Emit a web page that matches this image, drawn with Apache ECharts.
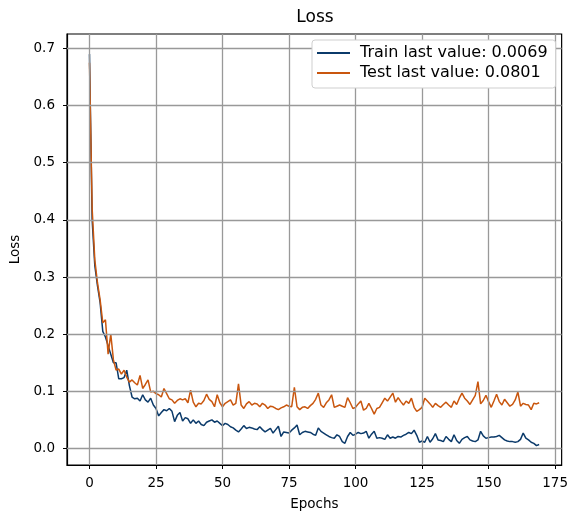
<!DOCTYPE html>
<html lang="en">
<head>
    <meta charset="UTF-8">
    <title>Loss</title>
    <script src="https://cdn.jsdelivr.net/npm/echarts@6/dist/echarts.min.js"></script>
    <style>
        html, body { margin: 0; padding: 0; background: #fff; }
        #chart { width: 571px; height: 516px; }
    </style>
</head>
<body>
    <div id="chart"></div>

    <script>
        // loss per epoch
        var trainLoss = [
            0.690, 0.400, 0.320, 0.285, 0.255, 0.205, 0.195, 0.180, 0.165, 0.150,
            0.150, 0.122, 0.122, 0.124, 0.137, 0.110, 0.090, 0.087, 0.088, 0.083,
            0.094, 0.085, 0.081, 0.088, 0.076, 0.070, 0.057, 0.063, 0.068, 0.066,
            0.070, 0.065, 0.047, 0.058, 0.063, 0.048, 0.054, 0.052, 0.044, 0.050,
            0.044, 0.048, 0.042, 0.040, 0.046, 0.048, 0.050, 0.046, 0.048, 0.044,
            0.040, 0.044, 0.042, 0.038, 0.036, 0.032, 0.029, 0.034, 0.040, 0.035,
            0.037, 0.036, 0.034, 0.033, 0.038, 0.033, 0.029, 0.032, 0.035, 0.027,
            0.033, 0.039, 0.021, 0.029, 0.028, 0.027, 0.032, 0.036, 0.041, 0.024,
            0.028, 0.030, 0.029, 0.028, 0.025, 0.023, 0.036, 0.030, 0.027, 0.024,
            0.021, 0.019, 0.018, 0.024, 0.021, 0.012, 0.009, 0.021, 0.028, 0.023,
            0.025, 0.028, 0.026, 0.027, 0.030, 0.018, 0.025, 0.030, 0.018, 0.019,
            0.018, 0.016, 0.024, 0.018, 0.020, 0.018, 0.021, 0.020, 0.023, 0.025,
            0.028, 0.026, 0.032, 0.023, 0.011, 0.013, 0.011, 0.021, 0.011, 0.017,
            0.026, 0.015, 0.014, 0.012, 0.021, 0.016, 0.012, 0.024, 0.014, 0.009,
            0.016, 0.019, 0.021, 0.015, 0.013, 0.012, 0.015, 0.030, 0.022, 0.018,
            0.019, 0.020, 0.020, 0.021, 0.023, 0.019, 0.015, 0.013, 0.012, 0.012,
            0.011, 0.012, 0.016, 0.027, 0.018, 0.015, 0.011, 0.009, 0.005, 0.0069
        ];
        var testLoss = [
            0.675, 0.420, 0.330, 0.290, 0.260, 0.220, 0.225, 0.165, 0.200, 0.155,
            0.137, 0.139, 0.130, 0.137, 0.125, 0.116, 0.120, 0.115, 0.111, 0.128,
            0.105, 0.112, 0.120, 0.099, 0.100, 0.096, 0.094, 0.090, 0.105, 0.096,
            0.087, 0.085, 0.079, 0.084, 0.087, 0.085, 0.087, 0.080, 0.102, 0.081,
            0.073, 0.079, 0.078, 0.084, 0.095, 0.086, 0.082, 0.073, 0.094, 0.080,
            0.073, 0.079, 0.082, 0.085, 0.076, 0.079, 0.113, 0.076, 0.070, 0.078,
            0.082, 0.076, 0.079, 0.078, 0.073, 0.079, 0.076, 0.070, 0.074, 0.073,
            0.070, 0.068, 0.071, 0.073, 0.076, 0.074, 0.073, 0.107, 0.073, 0.068,
            0.072, 0.073, 0.070, 0.075, 0.079, 0.086, 0.097, 0.076, 0.072, 0.080,
            0.085, 0.094, 0.072, 0.074, 0.076, 0.074, 0.072, 0.089, 0.080, 0.070,
            0.072, 0.078, 0.083, 0.067, 0.070, 0.079, 0.070, 0.060, 0.070, 0.072,
            0.080, 0.088, 0.083, 0.090, 0.097, 0.081, 0.089, 0.082, 0.076, 0.083,
            0.079, 0.088, 0.072, 0.065, 0.068, 0.072, 0.088, 0.083, 0.078, 0.072,
            0.079, 0.075, 0.072, 0.077, 0.081, 0.076, 0.072, 0.083, 0.077, 0.088,
            0.097, 0.088, 0.083, 0.077, 0.085, 0.093, 0.117, 0.078, 0.084, 0.093,
            0.082, 0.072, 0.083, 0.095, 0.082, 0.076, 0.086, 0.080, 0.074, 0.077,
            0.085, 0.099, 0.074, 0.079, 0.077, 0.076, 0.068, 0.079, 0.078, 0.0801
        ];
        var xTicks = [0, 25, 50, 75, 100, 125, 150, 175];
        var yTicks = [0.0, 0.1, 0.2, 0.3, 0.4, 0.5, 0.6, 0.7];
        var trainName = 'Train last value: 0.0069';
        var testName = 'Test last value: 0.0801';

        function pairs(arr) {
            var out = [];
            for (var i = 0; i < arr.length; i++) {
                out.push([i, arr[i]]);
            }
            return out;
        }

        // grid lines at the tick values (splitLine ignores customValues)
        var gridLines = [];
        xTicks.forEach(function (v) { gridLines.push({ xAxis: v }); });
        yTicks.forEach(function (v) { gridLines.push({ yAxis: v }); });

        var font = 'DejaVu Sans';
        var mychart = echarts.init(document.getElementById('chart'));
        var option = {
            animation: false,
            title: {
                text: 'Loss',
                left: 315,
                top: 9,
                padding: 0,
                textAlign: 'center',
                textStyle: { fontFamily: font, fontSize: 17, fontWeight: 'normal', color: '#000' }
            },
            legend: {
                orient: 'vertical',
                left: 312,
                top: 40,
                z: 20,
                icon: 'rect',
                itemWidth: 33,
                itemHeight: 2,
                itemGap: 4,
                padding: [5, 8, 7, 5],
                backgroundColor: '#fff',
                borderColor: '#cfcfcf',
                borderWidth: 1,
                borderRadius: 3,
                textStyle: { fontFamily: font, fontSize: 16, color: '#000', padding: [0, 0, 0, 5] },
                data: [trainName, testName]
            },
            grid: {
                left: 67,
                right: 8,
                top: 34,
                bottom: 46,
                show: true,
                borderColor: '#000',
                borderWidth: 1.2,
                backgroundColor: '#fff'
            },
            xAxis: {
                type: 'value',
                min: -8.45,
                max: 177.45,
                name: 'Epochs',
                nameLocation: 'middle',
                nameGap: 32,
                nameTextStyle: { fontFamily: font, fontSize: 13.5, color: '#000' },
                axisLine: { show: true, onZero: false, lineStyle: { color: '#000', width: 1.2 } },
                axisTick: { show: true, length: 4, customValues: xTicks, lineStyle: { color: '#000' } },
                axisLabel: { customValues: xTicks, margin: 11, fontFamily: font, fontSize: 13.5, color: '#000' },
                splitLine: { show: false }
            },
            yAxis: {
                type: 'value',
                min: -0.0289,
                max: 0.7252,
                name: 'Loss',
                nameLocation: 'middle',
                nameGap: 42,
                nameTextStyle: { fontFamily: font, fontSize: 13.5, color: '#000' },
                axisLine: { show: true, onZero: false, lineStyle: { color: '#000', width: 1.2 } },
                axisTick: { show: true, length: 4, customValues: yTicks, lineStyle: { color: '#000' } },
                axisLabel: {
                    customValues: yTicks, margin: 12, fontFamily: font, fontSize: 13.5, color: '#000',
                    formatter: function (v) { return v.toFixed(1); }
                },
                splitLine: { show: false }
            },
            series: [{
                name: 'grid',
                type: 'line',
                data: [],
                z: 1,
                silent: true,
                markLine: {
                    silent: true,
                    symbol: ['none', 'none'],
                    label: { show: false },
                    lineStyle: { color: '#999', width: 1.3, type: 'solid' },
                    data: gridLines
                }
            }, {
                name: trainName,
                type: 'line',
                symbol: 'none',
                z: 3,
                color: '#0b3a6a',
                lineStyle: { width: 1.5 },
                data: pairs(trainLoss)
            }, {
                name: testName,
                type: 'line',
                symbol: 'none',
                z: 4,
                color: '#c9560e',
                lineStyle: { width: 1.5 },
                data: pairs(testLoss)
            }]
        };
        mychart.setOption(option);
    </script>
</body>
</html>
